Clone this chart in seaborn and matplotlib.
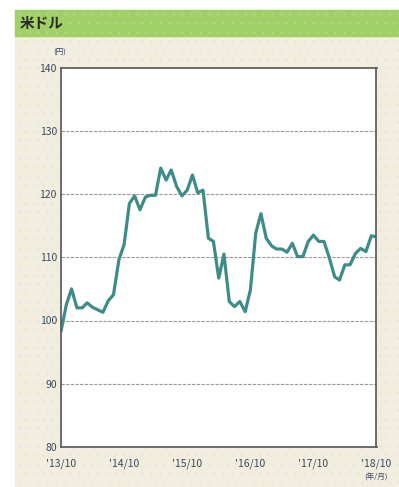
import matplotlib
matplotlib.use("Agg")
import matplotlib.pyplot as plt
from matplotlib.patches import Rectangle
import numpy as np
import pandas as pd
import seaborn as sns

# Monthly USD/JPY rate, Oct 2013 - Oct 2018
start_month = "2013-10"
usd_jpy = [
    98.3, 102.5, 105.0, 102.0, 102.0, 102.8, 102.1, 101.7, 101.3, 103.1,
    104.1, 109.6, 112.0, 118.5, 119.7, 117.5, 119.5, 119.8, 119.8, 124.1,
    122.2, 123.8, 121.2, 119.7, 120.6, 123.0, 120.2, 120.6, 113.0, 112.5,
    106.7, 110.5, 103.0, 102.2, 103.0, 101.4, 104.8, 113.8, 116.9, 113.0,
    111.8, 111.3, 111.3, 110.8, 112.2, 110.1, 110.1, 112.5, 113.5, 112.5,
    112.5, 109.9, 106.9, 106.4, 108.8, 108.8, 110.6, 111.4, 110.9, 113.4,
    113.2,
]
tick_months = ["2013-10", "2014-10", "2015-10", "2016-10", "2017-10", "2018-10"]
tick_labels = ["'13/10", "'14/10", "'15/10", "'16/10", "'17/10", "'18/10"]
y_ticks = [80, 90, 100, 110, 120, 130, 140]

dates = pd.date_range(start_month, periods=len(usd_jpy), freq="MS")
df = pd.DataFrame({"month": dates, "rate": usd_jpy})

sns.set_style("white")
plt.rcParams["font.family"] = ["Noto Sans CJK JP", "DejaVu Sans"]

fig = plt.figure(figsize=(3.99, 4.87), dpi=100)
fig.patch.set_facecolor("white")

# Panel background and header band
W, H = 399, 487
def px_rect(x0, y0, x1, y1, color):
    fig.patches.append(Rectangle((x0 / W, 1 - y1 / H), (x1 - x0) / W, (y1 - y0) / H,
                                 transform=fig.transFigure, color=color, zorder=-2))
px_rect(15, 10, 399, 487, "#f1eedf")
px_rect(15, 10, 399, 36, "#a0d066")

# faint dotted texture on the panel
rng_x = np.arange(20, 399, 9)
rng_y = np.arange(14, 487, 9)
gx, gy = np.meshgrid(rng_x, rng_y)
gx = gx + (np.arange(len(rng_y))[:, None] % 2) * 4.5
fig.add_artist(plt.Line2D(gx.ravel() / W, 1 - gy.ravel() / H, linestyle="none",
                          marker=".", markersize=1.0, color="#d4d8dc", alpha=0.5,
                          transform=fig.transFigure, zorder=-1))

fig.text(20 / W, 1 - 23 / H, "米ドル", fontsize=10.5, fontweight="bold",
         color="#2a2a2a", va="center", ha="left")

ax = fig.add_axes([61 / W, 1 - 447 / H, (376.5 - 61) / W, (447 - 67.5) / H])
ax.set_zorder(2)
ax.set_facecolor("white")

sns.lineplot(data=df, x="month", y="rate", ax=ax, color="#3d8c88", linewidth=2.3)

ax.set_ylim(80, 140)
ax.set_xlim(pd.Timestamp(tick_months[0]), pd.Timestamp(tick_months[-1]))
ax.set_yticks(y_ticks)
ax.set_yticklabels([str(v) for v in y_ticks])
ax.set_xticks([pd.Timestamp(m) for m in tick_months])
ax.set_xticklabels(tick_labels)
ax.set_xlabel("")
ax.set_ylabel("")

for v in y_ticks[1:-1]:
    ax.axhline(v, color="#9a9a9a", linewidth=0.8, linestyle=(0, (3, 1.2)), zorder=0)

for s in ax.spines.values():
    s.set_color("#555555")
    s.set_linewidth(1.2)

ax.tick_params(axis="y", length=0, pad=3, labelsize=7.5, labelcolor="#3b4a60")
ax.tick_params(axis="x", direction="in", length=4, width=1.2, color="#555555",
               pad=8, labelsize=7.5, labelcolor="#3b4a60")

fig.text(60 / W, 1 - 53 / H, "(円)", fontsize=5.5, color="#3b4a60", ha="center", va="center")
fig.text(376 / W, 1 - 478 / H, "(年/月)", fontsize=5.5, color="#3b4a60", ha="center", va="center")

fig.savefig("out.png", dpi=100, facecolor=fig.get_facecolor())
